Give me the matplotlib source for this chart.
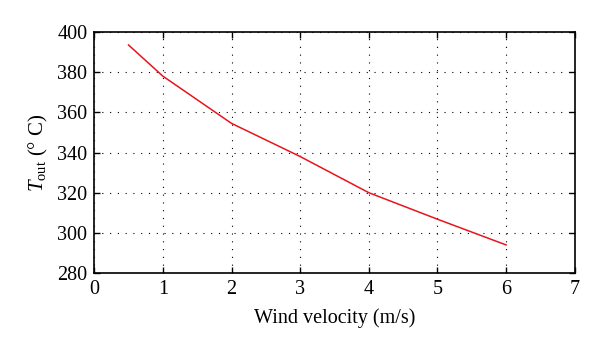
import matplotlib.pyplot as plt

wind_velocity = [0.5, 1, 2, 3, 4, 5, 6]
t_out = [393.5, 378, 354.5, 338, 320, 306.8, 294]

x_ticks = [0, 1, 2, 3, 4, 5, 6, 7]
y_ticks = [280, 300, 320, 340, 360, 380, 400]

plt.rcParams['font.family'] = ['Liberation Serif', 'DejaVu Serif']
plt.rcParams['mathtext.fontset'] = 'custom'
plt.rcParams['mathtext.it'] = 'Liberation Serif:italic'
plt.rcParams['mathtext.rm'] = 'Liberation Serif'

fig = plt.figure(figsize=(6, 3.51), dpi=100)
ax = fig.add_axes([0.157, 0.222, 0.801, 0.687])

ax.plot(wind_velocity, t_out, color='#e8141c', linewidth=1.1)

ax.set_xlim(0, 7)
ax.set_ylim(280, 400)
ax.set_xticks(x_ticks)
ax.set_yticks(y_ticks)
ax.tick_params(direction='in', top=True, right=True, length=4, width=1,
               labelsize=14.5, pad=5)
for s in ax.spines.values():
    s.set_linewidth(1.2)

ax.grid(True, color='black', linestyle=(0, (1, 6)), linewidth=0.8)

ax.set_xlabel('Wind velocity (m/s)', fontsize=14.5, labelpad=7)
ax.set_ylabel(r'$T_{\mathrm{out}}$ (° C)', fontsize=15, labelpad=5)

fig.savefig('out.png', dpi=100)
